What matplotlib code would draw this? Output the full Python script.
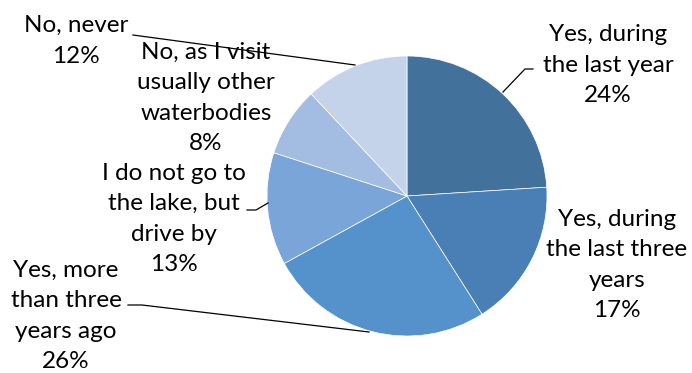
import numpy as np
import matplotlib
matplotlib.use("Agg")
import matplotlib.pyplot as plt

labels=["Yes, during\nthe last year", "Yes, during\nthe last three\nyears", "Yes, more\nthan three\nyears ago",
	"I do not go to\nthe lake, but\ndrive by", "No, as I visit\nusually other\nwaterbodies", "No, never"]
values=[24, 17, 26, 13, 8, 12]
colors=["#42719B", "#4A7FB5", "#5592CB", "#79A5D8", "#A3BDE2", "#C4D3EA"]

W, H=692, 373
cx, cy, r=407, 196, 140

def px(x, y):
	# pixel coords (top-left origin) -> figure fraction
	return x/W, 1-y/H

def main():
	plt.rcParams["font.family"]=["Lato", "DejaVu Sans"]
	fig=plt.figure(figsize=(W/100, H/100), dpi=100)
	ax=fig.add_axes([(cx-r)/W, 1-(cy+r)/H, 2*r/W, 2*r/H])
	ax.pie(values, colors=colors, startangle=90, counterclock=False,
		wedgeprops=dict(edgecolor="white", linewidth=0.5))
	ax.set_xlim(-1, 1)
	ax.set_ylim(-1, 1)
	ax.set_aspect("auto")

	# label centres and optional leader lines, in pixels
	pos=[(608, 65), (617, 265), (66, 316), (174, 219), (206, 98), (76, 41)]
	leaders=[
		[(533, 69), (525, 69), (503, 92)],
		None,
		[(128, 305), (142, 305), (369, 332)],
		[(247, 210), (256, 210), (268, 203)],
		None,
		[(133, 35), (355, 65)],
	]
	for lab, v, p, ld in zip(labels, values, pos, leaders):
		if ld is not None:
			xs, ys=zip(*[px(*q) for q in ld])
			fig.add_artist(plt.Line2D(xs, ys, color="black", lw=0.9, transform=fig.transFigure))
		fig.text(*px(*p), f"{lab}\n{v}%", ha="center", va="center", fontsize=17.5,
			linespacing=1.55, color="black")

	fig.savefig("out.png", dpi=100)
	plt.close()

if __name__=="__main__":
	main()
